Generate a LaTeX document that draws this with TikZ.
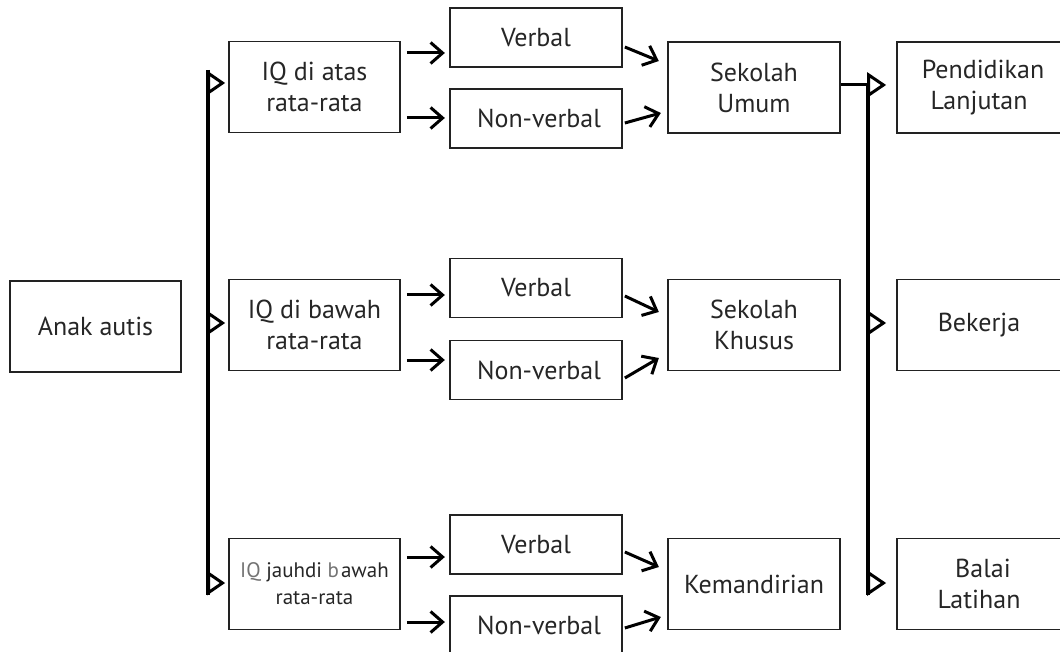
\documentclass[tikz,border=0pt]{standalone}
\usepackage{fontspec}
\setmainfont{PT Sans}
\usetikzlibrary{arrows.meta}
\definecolor{boxline}{HTML}{222222}
\definecolor{txt}{HTML}{262626}
\begin{document}
\begin{tikzpicture}[x=1pt,y=-1pt,
  box/.style={draw=boxline, line width=1.7pt, minimum width=172pt, minimum height=91pt,
    inner sep=0pt, align=center, text=txt, font=\fontsize{26}{31}\selectfont},
  sbox/.style={box, minimum height=59pt},
  chev/.style={line width=3pt, black, -{Straight Barb[length=12pt,width=21pt,line width=3pt]}},
  tri/.style={line width=3pt, black, -{Triangle[open,length=18pt,width=24pt,line width=3pt]}},
  rtri/.style={line width=3pt, black, -{Triangle[open,length=19pt,width=25pt,line width=3pt]}},
  bus/.style={line width=3.2pt, black}]
\useasboundingbox (0,0) rectangle (1060,652);
\clip (0,0) rectangle (1060,652);
% nodes
\node[box, minimum width=171pt] (anak) at (95.5,326.5) {Anak autis};
\node[box, minimum width=171pt] (iq1) at (314.5,87) {IQ di atas\\rata-rata};
\node[box, minimum width=171pt] (iq2) at (314.5,325) {IQ di bawah\\rata-rata};
\node[box, minimum width=171pt, font=\fontsize{21}{27}\selectfont] (iq3) at (314.5,584) {{\color{black!55}IQ} jauhdi {\color{black!55}b}\kern2pt awah\\rata-rata};
\node[sbox] (v1) at (536,37.5) {Verbal};
\node[sbox] (n1) at (536,118.5) {\hspace*{6pt}Non-verbal};
\node[sbox] (v2) at (536,288) {Verbal};
\node[sbox] (n2) at (536,370) {\hspace*{6pt}Non-verbal};
\node[sbox] (v3) at (536,544.5) {Verbal};
\node[sbox] (n3) at (536,625.5) {\hspace*{6pt}Non-verbal};
\node[box] (s1) at (754,87.5) {Sekolah\\Umum};
\node[box] (s2) at (754,325) {Sekolah\\Khusus};
\node[box] (s3) at (754,584) {Kemandirian};
\node[box] (p1) at (983,87.5) {Pendidikan\\Lanjutan\hspace*{8pt}};
\node[box] (p2) at (983,325) {Bekerja\hspace*{8pt}};
\node[box] (p3) at (983,584) {Balai\\Latihan\hspace*{8pt}};
% left bus
\coordinate (lt) at (208,70);
\coordinate (lb) at (208,595);
\coordinate (t1) at (208,83);
\coordinate (t2) at (208,323);
\coordinate (t3) at (208,583);
\draw[bus] (lt) -- (lb);
\draw[tri, shorten >=3pt] (t1) -- (t1 -| iq1.west);
\draw[tri, shorten >=3pt] (t2) -- (t2 -| iq2.west);
\draw[tri, shorten >=3pt] (t3) -- (t3 -| iq3.west);
% IQ -> verbal / non-verbal
\draw[chev] ([xshift=6pt,yshift=34pt]iq1.east) -- ++(38,0);
\draw[chev] ([xshift=6pt,yshift=-31pt]iq1.east) -- ++(38,0);
\draw[chev] ([xshift=6pt,yshift=30pt]iq2.east) -- ++(38,0);
\draw[chev] ([xshift=6pt,yshift=-35pt]iq2.east) -- ++(38,0);
\draw[chev] ([xshift=6pt,yshift=27pt]iq3.east) -- ++(38,0);
\draw[chev] ([xshift=6pt,yshift=-38pt]iq3.east) -- ++(38,0);
% verbal -> school
\draw[chev] ([xshift=2pt,yshift=-9.5pt]v1.east) -- ++(34,14);
\draw[chev] ([xshift=2pt,yshift=-4.5pt]n1.east) -- ++(36,-10);
\draw[chev] ([xshift=2pt,yshift=-8pt]v2.east) -- ++(34,16);
\draw[chev] ([xshift=2pt,yshift=-8pt]n2.east) -- ++(34,-20);
\draw[chev] ([xshift=2pt,yshift=-7.5pt]v3.east) -- ++(34,15);
\draw[chev] ([xshift=2pt,yshift=-2.5pt]n3.east) -- ++(36,-11);
% right bus
\coordinate (rt) at (868,85);
\coordinate (rb) at (868,595);
\coordinate (u2) at (868,323);
\coordinate (u3) at (868,583);
\draw[bus] (rt) -- (rb);
\draw[rtri, shorten >=10pt] ([yshift=2.5pt]s1.east) -- ([yshift=2.5pt]p1.west);
\draw[rtri, shorten >=10pt] (u2) -- (u2 -| p2.west);
\draw[rtri, shorten >=10pt] (u3) -- (u3 -| p3.west);
\end{tikzpicture}
\end{document}
